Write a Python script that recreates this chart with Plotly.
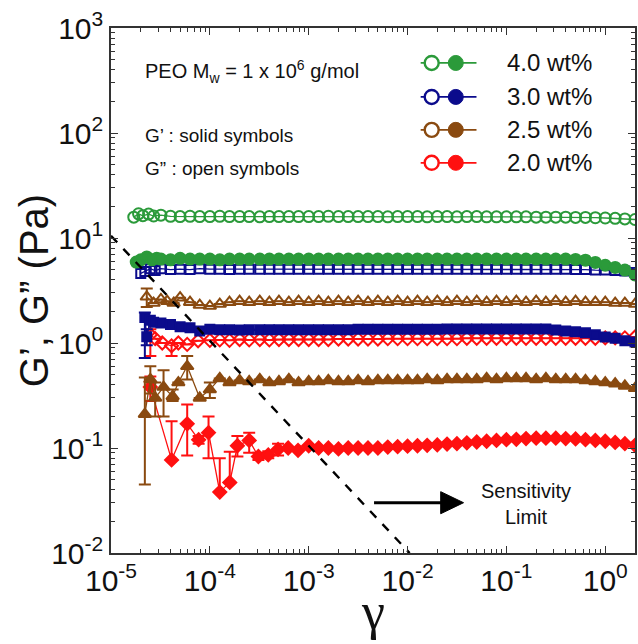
import plotly.graph_objects as go

# ---------------- data ----------------
# common strain grid for the steady (linear) region, 1e-3 .. 2
GRID = [1.0e-3, 1.26e-3, 1.58e-3, 2.0e-3, 2.51e-3, 3.16e-3, 3.98e-3, 5.01e-3, 6.31e-3, 7.94e-3,
        1.0e-2, 1.26e-2, 1.58e-2, 2.0e-2, 2.51e-2, 3.16e-2, 3.98e-2, 5.01e-2, 6.31e-2, 7.94e-2,
        1.0e-1, 1.26e-1, 1.58e-1, 2.0e-1, 2.51e-1, 3.16e-1, 3.98e-1, 5.01e-1, 6.31e-1, 7.94e-1,
        1.0, 1.26, 1.58, 2.0]

# 4.0 wt%  G'' (open) and G' (solid)
c40_Gpp_x = [1.7e-5, 1.9e-5, 2.1e-5, 2.4e-5, 2.7e-5, 3.2e-5, 4.0e-5, 5.0e-5, 6.3e-5, 7.9e-5,
             1.0e-4, 1.26e-4, 1.58e-4, 2.0e-4, 2.5e-4, 3.2e-4, 4.0e-4, 5.0e-4, 6.3e-4, 7.9e-4] + GRID
c40_Gpp = [15.8, 17.0, 16.3, 16.9, 16.2, 16.5, 16.1, 16.0, 16.1, 16.0,
           16.0, 16.1, 16.0, 16.0, 16.0, 15.9, 16.0, 16.0, 16.0, 16.0,
           16.0, 16.0, 16.1, 16.0, 16.0, 16.0, 16.0, 16.0, 15.9, 16.0,
           16.0, 16.0, 15.9, 16.0, 16.0, 15.9, 16.0, 16.0, 15.9, 15.9,
           15.9, 15.9, 15.9, 15.8, 15.8, 15.8, 15.8, 15.7, 15.7, 15.6,
           15.5, 15.4, 15.2, 15.0]
c40_Gp_x = [1.8e-5, 2.0e-5, 2.3e-5, 2.6e-5, 2.9e-5, 3.2e-5, 4.0e-5, 5.0e-5, 6.3e-5, 7.9e-5,
            1.0e-4, 1.26e-4, 1.58e-4, 2.0e-4, 2.5e-4, 3.2e-4, 4.0e-4, 5.0e-4, 6.3e-4, 7.9e-4] + GRID
c40_Gp = [5.9, 6.2, 6.6, 6.2, 6.4, 6.3, 6.2, 6.4, 6.3, 6.3,
          6.3, 6.2, 6.3, 6.3, 6.3, 6.3, 6.3, 6.3, 6.3, 6.3,
          6.3, 6.3, 6.3, 6.3, 6.3, 6.3, 6.3, 6.3, 6.3, 6.3,
          6.3, 6.3, 6.3, 6.3, 6.3, 6.3, 6.3, 6.3, 6.3, 6.3,
          6.3, 6.3, 6.3, 6.3, 6.3, 6.3, 6.3, 6.25, 6.15, 5.85,
          5.5, 5.25, 4.95, 4.45]

# 3.0 wt%
c30_Gpp_x = [2.0e-5, 2.2e-5, 2.5e-5, 2.8e-5, 3.2e-5, 4.0e-5, 5.0e-5, 6.3e-5, 7.9e-5,
             1.0e-4, 1.26e-4, 1.58e-4, 2.0e-4, 2.5e-4, 3.2e-4, 4.0e-4, 5.0e-4, 6.3e-4, 7.9e-4] + GRID
c30_Gpp = [4.6, 4.8, 5.1, 4.9, 5.1, 5.0, 5.05, 5.0, 5.1,
           5.05, 5.05, 5.0, 5.05, 5.05, 5.05, 5.05, 5.05, 5.05, 5.05,
           5.05, 5.05, 5.05, 5.05, 5.05, 5.05, 5.05, 5.05, 5.05, 5.05,
           5.05, 5.05, 5.05, 5.05, 5.05, 5.05, 5.05, 5.05, 5.05, 5.05,
           5.05, 5.05, 5.05, 5.05, 5.05, 5.05, 5.05, 5.0, 5.0, 4.95,
           4.95, 4.9, 4.85, 4.7]
c30_Gp_x = [2.2e-5, 2.3e-5, 2.5e-5, 2.7e-5, 3.2e-5, 4.0e-5, 5.0e-5, 6.3e-5, 7.9e-5,
            1.0e-4, 1.26e-4, 1.58e-4, 2.0e-4, 2.5e-4, 3.2e-4, 4.0e-4, 5.0e-4, 6.3e-4, 7.9e-4] + GRID
c30_Gp = [1.75, 1.15, 1.65, 1.58, 1.55, 1.5, 1.43, 1.4, 1.3,
          1.35, 1.34, 1.34, 1.33, 1.34, 1.34, 1.34, 1.34, 1.34, 1.34,
          1.34, 1.34, 1.34, 1.34, 1.34, 1.35, 1.35, 1.35, 1.35, 1.35,
          1.35, 1.35, 1.35, 1.35, 1.36, 1.36, 1.36, 1.36, 1.36, 1.36,
          1.36, 1.36, 1.36, 1.36, 1.36, 1.33, 1.3, 1.28, 1.25, 1.2,
          1.14, 1.11, 1.05, 1.02]
c30_Gp_hi = [1.95, 1.35] + [None] * 51
c30_Gp_lo = [0.72, 0.95] + [None] * 51

# 2.5 wt%
c25_Gpp_x = [2.3e-5, 2.7e-5, 3.2e-5, 3.7e-5, 4.3e-5, 5.0e-5, 6.3e-5, 7.9e-5,
             1.0e-4, 1.26e-4, 1.58e-4, 2.0e-4, 2.5e-4, 3.2e-4, 4.0e-4, 5.0e-4, 6.3e-4, 7.9e-4] + GRID
c25_Gpp = [2.75, 2.4, 2.6, 2.5, 2.4, 2.7, 2.45, 2.3,
           2.25, 2.35, 2.45, 2.5, 2.45, 2.5, 2.45, 2.5, 2.45, 2.5,
           2.45, 2.5, 2.45, 2.5, 2.45, 2.5, 2.45, 2.5, 2.45, 2.5,
           2.45, 2.5, 2.45, 2.5, 2.45, 2.5, 2.45, 2.5, 2.45, 2.5,
           2.45, 2.5, 2.45, 2.5, 2.45, 2.5, 2.45, 2.5, 2.45, 2.45,
           2.45, 2.4, 2.4, 2.35]
c25_Gpp_hi = [3.3] + [None] * 51
c25_Gpp_lo = [2.2] + [None] * 51
c25_Gp_x = [2.2e-5, 2.5e-5, 2.8e-5, 3.4e-5, 4.2e-5, 4.8e-5, 5.9e-5, 7.9e-5,
            1.0e-4, 1.26e-4, 1.58e-4, 2.0e-4, 2.5e-4, 3.2e-4, 4.0e-4, 5.0e-4, 6.3e-4, 7.9e-4] + GRID
c25_Gp = [0.21, 0.45, 0.3, 0.38, 0.31, 0.42, 0.6, 0.3,
          0.36, 0.46, 0.42, 0.44, 0.43, 0.45, 0.42, 0.43, 0.45, 0.42,
          0.43, 0.43, 0.44, 0.43, 0.43, 0.44, 0.43, 0.44, 0.44, 0.44,
          0.44, 0.44, 0.45, 0.44, 0.45, 0.45, 0.45, 0.45, 0.46, 0.45,
          0.46, 0.46, 0.46, 0.45, 0.46, 0.45, 0.45, 0.45, 0.44, 0.43,
          0.42, 0.41, 0.39, 0.37]
c25_Gp_hi = [0.47, 0.6, 0.42, 0.55, 0.36, None, 0.75, None, 0.42] + [None] * 43
c25_Gp_lo = [0.045, 0.33, 0.2, 0.2, 0.28, None, 0.45, None, 0.3] + [None] * 43

# 2.0 wt%
c20_Gpp_x = [2.5e-5, 2.8e-5, 3.3e-5, 4.1e-5, 4.8e-5, 5.9e-5, 7.6e-5,
             1.0e-4, 1.26e-4, 1.58e-4, 2.0e-4, 2.5e-4, 3.2e-4, 4.0e-4, 5.0e-4, 6.3e-4, 7.9e-4] + GRID
c20_Gpp = [1.2, 1.1, 1.0, 0.94, 1.0, 0.97, 1.05,
           1.06, 1.07, 1.06, 1.08, 1.07, 1.08, 1.07, 1.08, 1.08, 1.08,
           1.08, 1.08, 1.08, 1.09, 1.09, 1.09, 1.09, 1.09, 1.1, 1.1,
           1.1, 1.1, 1.1, 1.1, 1.1, 1.1, 1.11, 1.11, 1.11, 1.11,
           1.11, 1.11, 1.11, 1.11, 1.11, 1.11, 1.11, 1.11, 1.11, 1.11,
           1.12, 1.12, 1.12, 1.14]
c20_Gpp_hi = [1.35, None, None, 1.0] + [None] * 47
c20_Gpp_lo = [0.75, None, None, 0.75] + [None] * 47
c20_Gp_x = [2.5e-5, 4.1e-5, 5.9e-5, 7.7e-5, 9.7e-5, 1.26e-4, 1.59e-4, 1.9e-4, 2.5e-4,
            3.1e-4, 3.9e-4, 4.9e-4, 6.2e-4, 7.8e-4] + GRID
c20_Gp = [0.38, 0.077, 0.17, 0.12, 0.14, 0.038, 0.047, 0.105, 0.118,
          0.083, 0.086, 0.097, 0.10, 0.095,
          0.105, 0.1, 0.1, 0.098, 0.1, 0.1, 0.1, 0.1, 0.102, 0.103,
          0.104, 0.105, 0.106, 0.107, 0.109, 0.11, 0.112, 0.114, 0.116, 0.118,
          0.12, 0.121, 0.123, 0.124, 0.124, 0.124, 0.123, 0.122, 0.12, 0.118,
          0.116, 0.113, 0.11, 0.106]
c20_Gp_hi = [0.48, 0.18, 0.26, 0.13, 0.2, 0.08, 0.092, 0.13, 0.14, 0.09, 0.093, 0.11] + [None] * 36
c20_Gp_lo = [0.28, 0.077, 0.085, 0.11, 0.08, 0.038, 0.047, 0.083, 0.09, 0.077, 0.08, 0.085] + [None] * 36

# sensitivity limit line (G ~ 1/gamma)
limit_x = [1.0e-5, 1.05e-2]
limit_y = [10.5, 0.01]

labels = ["4.0 wt%", "3.0 wt%", "2.5 wt%", "2.0 wt%"]
colors = ["#2b9a3a", "#0b0b8c", "#8a4a10", "#ff1010"]

# ---------------- figure ----------------
FONT = "Liberation Sans, Arial, sans-serif"
fig = go.Figure()


def err(y, hi, lo):
    if hi is None:
        return None
    up = [None if h is None else h - v for v, h in zip(y, hi)]
    dn = [None if l is None else v - l for v, l in zip(y, lo)]
    return dict(type="data", array=up, arrayminus=dn, symmetric=False,
                thickness=2, width=6)


def add(x, y, color, symbol, size, hi=None, lo=None, lw=2):
    e = err(y, hi, lo)
    if e is not None:
        e["color"] = color
    fig.add_trace(go.Scatter(
        x=x, y=y, mode="lines+markers",
        line=dict(color=color, width=1.3),
        marker=dict(symbol=symbol, size=size, color=color,
                    line=dict(color=color, width=lw)),
        error_y=e, showlegend=False, cliponaxis=True))


add(c20_Gpp_x, c20_Gpp, colors[3], "diamond-open", 10, c20_Gpp_hi, c20_Gpp_lo)
add(c20_Gp_x, c20_Gp, colors[3], "diamond", 10, c20_Gp_hi, c20_Gp_lo)
add(c25_Gpp_x, c25_Gpp, colors[2], "triangle-up-open", 11, c25_Gpp_hi, c25_Gpp_lo)
add(c25_Gp_x, c25_Gp, colors[2], "triangle-up", 11, c25_Gp_hi, c25_Gp_lo)
add(c30_Gpp_x, c30_Gpp, colors[1], "square-open", 9)
add(c30_Gp_x, c30_Gp, colors[1], "square", 9, c30_Gp_hi, c30_Gp_lo)
add(c40_Gpp_x, c40_Gpp, colors[0], "circle-open", 11)
add(c40_Gp_x, c40_Gp, colors[0], "circle", 11)

fig.add_trace(go.Scatter(x=limit_x, y=limit_y, mode="lines",
                         line=dict(color="black", width=2.4, dash="dash"),
                         showlegend=False))

# custom legend drawn on an overlay axis spanning the plot area
rows = [0.9334, 0.8687, 0.806, 0.7432]
for lab, col, ry in zip(labels, colors, rows):
    fig.add_trace(go.Scatter(x=[0.591, 0.6975], y=[ry, ry], mode="lines",
                             line=dict(color=col, width=1.8),
                             xaxis="x2", yaxis="y2", showlegend=False))
    fig.add_trace(go.Scatter(x=[0.612], y=[ry], mode="markers",
                             marker=dict(symbol="circle", size=14, color="white",
                                         line=dict(color=col, width=2.4)),
                             xaxis="x2", yaxis="y2", showlegend=False))
    fig.add_trace(go.Scatter(x=[0.658], y=[ry], mode="markers",
                             marker=dict(symbol="circle", size=15, color=col,
                                         line=dict(color=col, width=1)),
                             xaxis="x2", yaxis="y2", showlegend=False))
    fig.add_annotation(x=0.7526, y=ry, xref="paper", yref="paper", text=lab,
                       showarrow=False, xanchor="left", yanchor="middle",
                       font=dict(family=FONT, size=24, color="#111"))

x_major = [-5, -4, -3, -2, -1, 0]
y_major = [-2, -1, 0, 1, 2, 3]
x_minor = [m * 10 ** e for e in range(-5, 1) for m in range(2, 10) if m * 10 ** e <= 2.0]
y_minor = [m * 10 ** e for e in range(-2, 3) for m in range(2, 10)]

axis_common = dict(type="log", showline=True, linecolor="#333", linewidth=1.5,
                   mirror="allticks", ticks="inside", ticklen=7, tickwidth=1.3,
                   tickcolor="#333", showgrid=False, zeroline=False,
                   tickfont=dict(family=FONT, size=30, color="#111"),
                   tickmode="array")

fig.update_layout(
    width=638, height=644,
    margin=dict(l=111, r=1, t=28, b=91),
    paper_bgcolor="white", plot_bgcolor="white",
    xaxis=dict(**axis_common, range=[-5, 0.301],
               tickvals=[10 ** e for e in x_major],
               ticktext=["10<sup>%d</sup>" % e for e in x_major],
               minor=dict(tickmode="array", tickvals=x_minor, ticks="inside",
                          ticklen=4, tickcolor="#333", showgrid=False)),
    yaxis=dict(**axis_common, range=[-2, 3],
               tickvals=[10 ** e for e in y_major],
               ticktext=["10<sup>%d</sup>" % e for e in y_major],
               minor=dict(tickmode="array", tickvals=y_minor, ticks="inside",
                          ticklen=4, tickcolor="#333", showgrid=False)),
    xaxis2=dict(overlaying="x", range=[0, 1], visible=False, anchor="y2"),
    yaxis2=dict(overlaying="y", range=[0, 1], visible=False, anchor="x2"),
)

# text annotations
fig.add_annotation(x=0.0613, y=0.918, xref="paper", yref="paper",
                   text="PEO M<sub>w</sub> = 1 x 10<sup>6</sup> g/mol", showarrow=False,
                   xanchor="left", yanchor="middle",
                   font=dict(family=FONT, size=20, color="#111"))
fig.add_annotation(x=0.0613, y=0.7944, xref="paper", yref="paper",
                   text="G’ : solid symbols", showarrow=False,
                   xanchor="left", yanchor="middle",
                   font=dict(family=FONT, size=19, color="#111"))
fig.add_annotation(x=0.0613, y=0.7316, xref="paper", yref="paper",
                   text="G” : open symbols", showarrow=False,
                   xanchor="left", yanchor="middle",
                   font=dict(family=FONT, size=19, color="#111"))
fig.add_annotation(x=0.7925, y=0.0939, xref="paper", yref="paper",
                   text="Sensitivity<br>Limit", showarrow=False,
                   xanchor="center", yanchor="middle",
                   font=dict(family=FONT, size=20, color="#111"))
# axis titles
fig.add_annotation(x=0.5, y=-0.112, xref="paper", yref="paper", text="γ",
                   showarrow=False, xanchor="center", yanchor="middle",
                   font=dict(family="Liberation Serif, DejaVu Serif, serif", size=52, color="#111"))
fig.add_annotation(x=-0.1475, y=0.5, xref="paper", yref="paper",
                   text="G’, G” (Pa)", textangle=-90, showarrow=False,
                   xanchor="center", yanchor="middle",
                   font=dict(family=FONT, size=40, color="#111"))

# arrow pointing to the right of the limit line
fig.add_shape(type="line", xref="paper", yref="paper",
              x0=0.502, y0=0.0958, x1=0.645, y1=0.0958,
              line=dict(color="black", width=3))
fig.add_shape(type="path", xref="paper", yref="paper",
              path="M 0.6292 0.1168 L 0.6728 0.0958 L 0.6292 0.0748 Z",
              fillcolor="black", line=dict(color="black", width=1))

fig.write_html("out.html")
